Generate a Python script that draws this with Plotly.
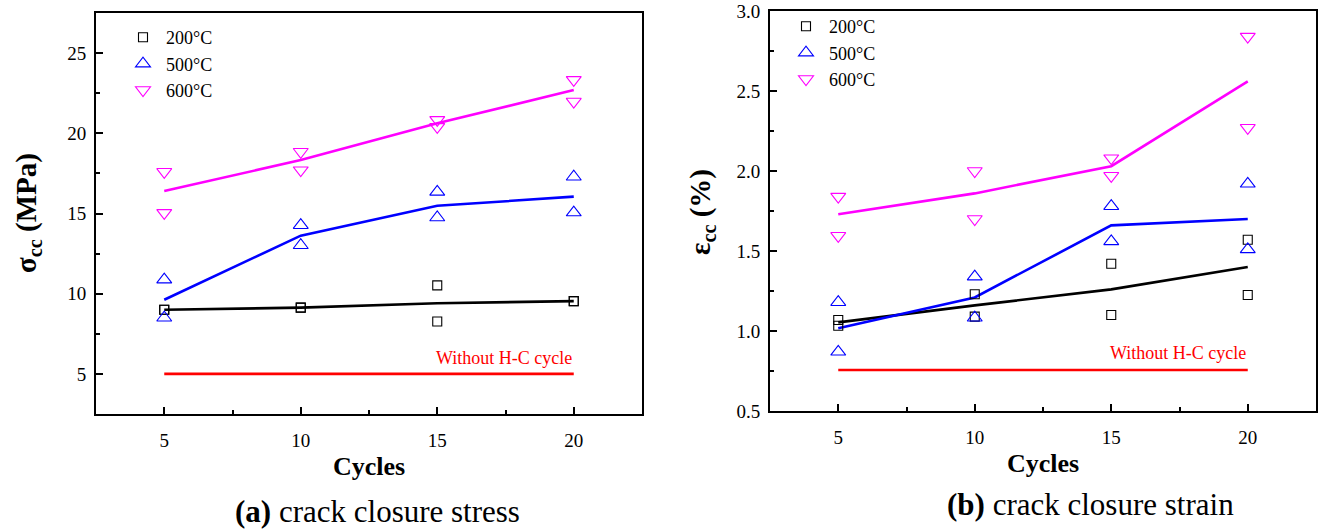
import plotly.graph_objects as go

W, H = 1319, 530
FONT = "'Times New Roman', 'Liberation Serif', Tinos, 'DejaVu Serif', serif"
OFF = 0  # body margin removed via post_script

cycles = [5, 10, 15, 20]

# (a) crack closure stress, MPa — two specimens per condition
stress_200_a = [9.0, 9.13, 10.52, 9.54]
stress_200_b = [9.0, 9.13, 8.27, 9.54]
stress_500_a = [10.88, 14.27, 16.35, 17.29]
stress_500_b = [8.50, 13.02, 14.75, 15.06]
stress_600_a = [17.60, 18.85, 20.84, 23.33]
stress_600_b = [15.04, 17.70, 20.40, 21.98]
stress_200_mean = [9.0, 9.13, 9.40, 9.54]
stress_500_mean = [9.62, 13.62, 15.48, 16.05]
stress_600_mean = [16.40, 18.33, 20.62, 22.70]
stress_base = [5.0, 5.0]

# (b) crack closure strain, %
strain_200_a = [1.069, 1.23, 1.42, 1.57]
strain_200_b = [1.033, 1.09, 1.10, 1.225]
strain_500_a = [1.18, 1.34, 1.78, 1.92]
strain_500_b = [0.87, 1.083, 1.56, 1.51]
strain_600_a = [1.84, 2.00, 2.08, 2.84]
strain_600_b = [1.595, 1.70, 1.97, 2.27]
strain_200_mean = [1.054, 1.16, 1.26, 1.40]
strain_500_mean = [1.017, 1.21, 1.66, 1.70]
strain_600_mean = [1.73, 1.86, 2.03, 2.56]
strain_base = [0.756, 0.756]

base_x = [5, 20]
labels = ["200\u00b0C", "500\u00b0C", "600\u00b0C"]
colors = ["black", "#0000ff", "#ff00ff"]
symbols = ["square-open", "triangle-up-open", "triangle-down-open"]
msizes = [9, 13, 13]

fig = go.Figure()

def add_panel(xa, ya, legend, a_list, b_list, m_list, base):
    for i in range(3):
        fig.add_trace(go.Scatter(
            x=cycles, y=m_list[i], mode="lines", xaxis=xa, yaxis=ya,
            line=dict(color=colors[i], width=2.6), showlegend=False, hoverinfo="skip"))
    for i in range(3):
        fig.add_trace(go.Scatter(
            x=cycles + cycles, y=a_list[i] + b_list[i], mode="markers",
            xaxis=xa, yaxis=ya, name=labels[i], legend=legend,
            marker=dict(symbol=symbols[i], size=msizes[i], color=colors[i],
                        line=dict(width=1.1, color=colors[i]))))
    fig.add_trace(go.Scatter(
        x=base_x, y=base, mode="lines", xaxis=xa, yaxis=ya,
        line=dict(color="#ff0000", width=2.6), showlegend=False, hoverinfo="skip"))

add_panel("x", "y", "legend",
          [stress_200_a, stress_500_a, stress_600_a],
          [stress_200_b, stress_500_b, stress_600_b],
          [stress_200_mean, stress_500_mean, stress_600_mean], stress_base)
add_panel("x2", "y2", "legend2",
          [strain_200_a, strain_500_a, strain_600_a],
          [strain_200_b, strain_500_b, strain_600_b],
          [strain_200_mean, strain_500_mean, strain_600_mean], strain_base)

def px_x(p):
    return (p - OFF) / W

def px_y(p):
    return 1 - (p - OFF) / H

axis_common = dict(
    showline=True, linecolor="black", linewidth=2, mirror=True,
    ticks="inside", ticklen=7, tickwidth=2, tickcolor="black",
    showgrid=False, zeroline=False, automargin=False, ticklabeloverflow="allow",
    tickfont=dict(family=FONT, size=19, color="black"),
)

fig.update_layout(
    width=W, height=H,
    margin=dict(l=0, r=0, t=0, b=0, pad=0, autoexpand=False),
    paper_bgcolor="white", plot_bgcolor="white",
    font=dict(family=FONT, color="black"),
    xaxis=dict(axis_common, domain=[px_x(96), px_x(642)], range=[2.5, 22.5],
               tickvals=cycles, anchor="y", ticklabelstandoff=8,
               minor=dict(ticks="inside", ticklen=4, tickwidth=2, tickcolor="black",
                          tickvals=[7.5, 12.5, 17.5])),
    yaxis=dict(axis_common, domain=[px_y(414), px_y(13)], range=[2.5, 27.5],
               tickvals=[5, 10, 15, 20, 25], anchor="x", ticklabelstandoff=4,
               minor=dict(ticks="inside", ticklen=4, tickwidth=2, tickcolor="black",
                          tickvals=[7.5, 12.5, 17.5, 22.5])),
    xaxis2=dict(axis_common, domain=[px_x(770), px_x(1316)], range=[2.5, 22.5],
                tickvals=cycles, anchor="y2", ticklabelstandoff=8,
                minor=dict(ticks="inside", ticklen=4, tickwidth=2, tickcolor="black",
                           tickvals=[7.5, 12.5, 17.5])),
    yaxis2=dict(axis_common, domain=[px_y(411), px_y(11)], range=[0.5, 3.0],
                tickvals=[0.5, 1.0, 1.5, 2.0, 2.5, 3.0], ticktext=["0.5", "1.0", "1.5", "2.0", "2.5", "3.0"],
                anchor="x2", ticklabelstandoff=4,
                minor=dict(ticks="inside", ticklen=4, tickwidth=2, tickcolor="black",
                           tickvals=[0.75, 1.25, 1.75, 2.25, 2.75])),
    legend=dict(x=px_x(120), y=px_y(19), xanchor="left", yanchor="top",
                bgcolor="rgba(0,0,0,0)", font=dict(family=FONT, size=18, color="black"),
                tracegroupgap=0, itemwidth=36),
    legend2=dict(x=px_x(783), y=px_y(8), xanchor="left", yanchor="top",
                 bgcolor="rgba(0,0,0,0)", font=dict(family=FONT, size=18, color="black"),
                 tracegroupgap=0, itemwidth=36),
    showlegend=True,
)

ann = []
ann.append(dict(x=20, y=6.0, xref="x", yref="y", text="Without H-C cycle", showarrow=False,
                xanchor="right", yanchor="middle", font=dict(family=FONT, size=18, color="#ff0000")))
ann.append(dict(x=20, y=0.86, xref="x2", yref="y2", text="Without H-C cycle", showarrow=False,
                xanchor="right", yanchor="middle", font=dict(family=FONT, size=18, color="#ff0000")))
ann.append(dict(x=px_x(369), y=px_y(466), xref="paper", yref="paper", text="<b>Cycles</b>",
                showarrow=False, xanchor="center", yanchor="middle",
                font=dict(family=FONT, size=26, color="black")))
ann.append(dict(x=px_x(1043), y=px_y(463), xref="paper", yref="paper", text="<b>Cycles</b>",
                showarrow=False, xanchor="center", yanchor="middle",
                font=dict(family=FONT, size=26, color="black")))
ann.append(dict(x=px_x(28), y=px_y(213), xref="paper", yref="paper",
                text="<b>\u03c3<sub>cc</sub> (MPa)</b>", textangle=-90,
                showarrow=False, xanchor="center", yanchor="middle",
                font=dict(family=FONT, size=29, color="black")))
ann.append(dict(x=px_x(702), y=px_y(212), xref="paper", yref="paper",
                text="<b>\u03b5<sub>cc</sub> (%)</b>", textangle=-90,
                showarrow=False, xanchor="center", yanchor="middle",
                font=dict(family=FONT, size=29, color="black")))
ann.append(dict(x=px_x(377), y=px_y(511), xref="paper", yref="paper",
                text="<b>(a)</b> crack closure stress", showarrow=False,
                xanchor="center", yanchor="middle", font=dict(family=FONT, size=31, color="black")))
ann.append(dict(x=px_x(1090), y=px_y(504), xref="paper", yref="paper",
                text="<b>(b)</b> crack closure strain", showarrow=False,
                xanchor="center", yanchor="middle", font=dict(family=FONT, size=31, color="black")))
fig.update_layout(annotations=ann)

fig.write_html("out.html",
               config={"displayModeBar": False},
               post_script="document.body.style.margin='0';document.body.style.overflow='hidden';")
